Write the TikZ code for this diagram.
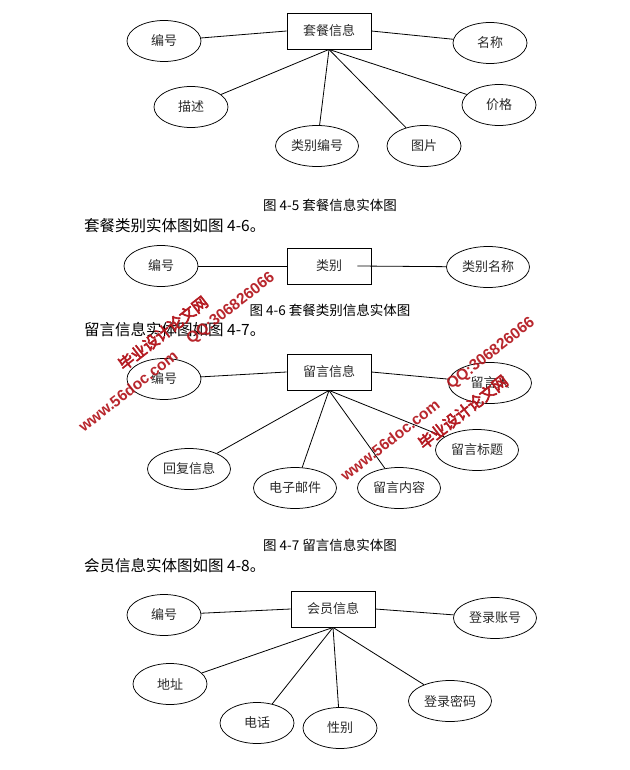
\documentclass[tikz,border=0pt]{standalone}
\usepackage{fontspec}
\setmainfont{Noto Sans CJK SC}
\newfontfamily\wmcjk{Noto Sans CJK SC}[FakeBold=4]
\newfontfamily\wmlat{Liberation Sans}
\usetikzlibrary{shapes.geometric}
\definecolor{wmred}{HTML}{B3151C}
\definecolor{lblgray}{HTML}{2B2B2B}
\tikzset{
  ent/.style={draw, line width=0.9pt, minimum width=84pt, minimum height=36pt, inner sep=0pt,
    text=lblgray, font=\fontsize{13}{13}\selectfont},
  attr/.style={ellipse, draw, line width=0.75pt, minimum width=74pt, minimum height=41pt, inner sep=0pt,
    text=lblgray, font=\fontsize{13}{13}\selectfont},
  attrw/.style={attr, minimum width=83pt},
  lk/.style={line width=0.8pt},
  capt/.style={font=\fontsize{13.5}{13.5}\selectfont, inner sep=0pt},
  bodytxt/.style={font=\fontsize{15.5}{15.5}\selectfont, inner sep=0pt, anchor=west},
  wmc/.style={text=wmred, opacity=0.92, rotate=38, inner sep=0pt, font=\wmcjk\fontsize{15.5}{15.5}\selectfont},
  wml/.style={text=wmred, opacity=0.92, rotate=38, inner sep=0pt, font=\wmlat\bfseries\fontsize{15.5}{15.5}\selectfont}
}
\begin{document}
\begin{tikzpicture}[x=1pt, y=-1pt]
\useasboundingbox[fill=white] (0,0) rectangle (629,770);

% ---------- Figure 4-5 ----------
\node[ent] (a) at (329,31) {套餐信息};
\node[attr] (a1) at (164,41) {编号};
\node[attr] (a2) at (490,43) {名称};
\node[attr] (a3) at (191,107) {描述};
\node[attr] (a4) at (499,105) {价格};
\node[attrw] (a5) at (317,146) {类别编号};
\node[attr] (a6) at (424,146) {图片};
\draw[lk] (a.west) -- (a1);
\draw[lk] (a.east) -- (a2);
\draw[lk] (a.south) -- (a3);
\draw[lk] (a.south) -- (a4);
\draw[lk] (a.south) -- (a5);
\draw[lk] (a.south) -- (a6);
\node[capt] (c1) at (330,205) {图 4-5 套餐信息实体图};
\node[bodytxt] (t1) at (84,226) {套餐类别实体图如图 4-6。};

% ---------- Figure 4-6 ----------
\node[ent] (b) at (329,266) {类别};
\node[attr] (b1) at (161,266) {编号};
\node[attrw] (b2) at (488,267) {类别名称};
\draw[lk] (b1) -- (b.west);
\draw[lk] ([xshift=-14pt]b.east) -- (b2);
\node[capt] (c2) at (330,310) {图 4-6 套餐类别信息实体图};
\node[bodytxt] (t2) at (84,330) {留言信息实体图如图 4-7。};

% ---------- Figure 4-7 ----------
\node[ent] (d) at (329,372) {留言信息};
\node[attr] (d1) at (164,379) {编号};
\node[attrw] (d2) at (490,383) {留言人};
\node[attrw] (d3) at (477,450) {留言标题};
\node[attrw] (d4) at (189,469) {回复信息};
\node[attrw] (d5) at (295,488) {电子邮件};
\node[attrw] (d6) at (399,488) {留言内容};
\draw[lk] (d.west) -- (d1);
\draw[lk] (d.east) -- (d2);
\draw[lk] (d.south) -- (d3);
\draw[lk] (d.south) -- (d4);
\draw[lk] (d.south) -- (d5);
\draw[lk] (d.south) -- (d6);
\node[capt] (c3) at (330,545) {图 4-7 留言信息实体图};
\node[bodytxt] (t3) at (84,566) {会员信息实体图如图 4-8。};

% ---------- Figure 4-8 ----------
\node[ent] (m) at (333,609) {会员信息};
\node[attr] (m1) at (164,615) {编号};
\node[attrw] (m2) at (495,618) {登录账号};
\node[attr] (m3) at (170,684) {地址};
\node[attr] (m4) at (257,723) {电话};
\node[attr] (m5) at (340,728) {性别};
\node[attrw] (m6) at (450,701) {登录密码};
\draw[lk] (m.west) -- (m1);
\draw[lk] (m.east) -- (m2);
\draw[lk] (m.south) -- (m3);
\draw[lk] (m.south) -- (m4);
\draw[lk] (m.south) -- (m5);
\draw[lk] (m.south) -- (m6);

% ---------- watermarks ----------
\node[wmc] (w1) at (163,333) {毕业设计论文网};
\node[wml] (w2) at (231,309) {QQ:306826066};
\node[wml] (w3) at (128,391) {www.56doc.com};
\node[wmc] (w4) at (463,412) {毕业设计论文网};
\node[wml] (w5) at (491,354) {QQ:306826066};
\node[wml] (w6) at (390,440) {www.56doc.com};
\end{tikzpicture}
\end{document}
